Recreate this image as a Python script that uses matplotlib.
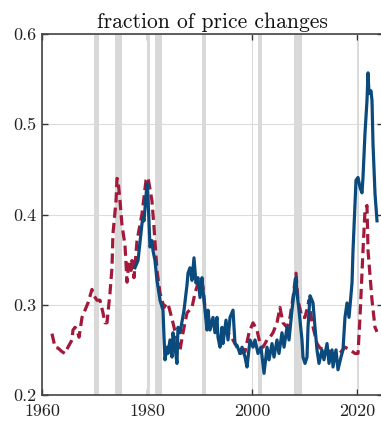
import matplotlib
matplotlib.use("Agg")
import matplotlib.pyplot as plt

plt.rcParams['font.family'] = ['cmr10', 'DejaVu Serif']
plt.rcParams['axes.formatter.use_mathtext'] = True

title = "fraction of price changes"

# recession periods (start, end)
rec_start = [1969.92, 1973.88, 1980.05, 1981.55, 1990.55, 2001.2, 2007.92, 2020.12]
rec_end   = [1970.88, 1975.2, 1980.55, 1982.88, 1991.2, 2001.88, 2009.5, 2020.33]

# red dashed series
red_years = [1961.90, 1962.48, 1963.05, 1963.81, 1964.38, 1964.95, 1965.71, 1965.90,
             1966.29, 1966.67, 1967.05, 1967.62, 1968.19, 1968.76, 1969.52, 1969.90,
             1970.48, 1971.05, 1971.62, 1972.00, 1972.38, 1972.57, 1972.95, 1973.33,
             1973.52, 1974.10, 1974.29, 1974.48, 1974.86, 1975.24, 1975.81, 1976.19,
             1976.57, 1976.95, 1977.14, 1977.52, 1978.10, 1979.05, 1979.81, 1980.19,
             1980.95, 1981.33, 1981.90, 1982.48, 1983.24, 1983.81, 1984.19, 1984.95,
             1985.71, 1986.29, 1986.86, 1987.62, 1988.57, 1989.14, 1989.90, 1990.29,
             1990.67, 1991.24, 1991.62, 1992.38, 1992.95, 1993.90, 1994.48, 1995.43,
             1996.19, 1997.14, 1997.71, 1998.67, 1999.43, 2000.19, 2000.95, 2001.52,
             2002.10, 2002.86, 2003.43, 2004.00, 2004.76, 2005.33, 2005.90, 2006.67,
             2007.24, 2007.81, 2008.38, 2008.76, 2009.52, 2010.10, 2010.86, 2011.43,
             2012.38, 2012.95, 2014.29, 2015.43, 2016.38, 2017.71, 2018.67, 2019.62,
             2020.19, 2020.57, 2021.14, 2021.52, 2021.90, 2022.10, 2022.86, 2023.43,
             2023.81]
red_vals = [0.268, 0.253, 0.252, 0.248, 0.246, 0.253, 0.261, 0.272,
            0.275, 0.272, 0.264, 0.286, 0.294, 0.302, 0.317, 0.310,
            0.305, 0.305, 0.291, 0.280, 0.280, 0.291, 0.313, 0.341,
            0.379, 0.415, 0.440, 0.438, 0.415, 0.388, 0.366, 0.325,
            0.349, 0.338, 0.349, 0.330, 0.371, 0.401, 0.438, 0.441,
            0.415, 0.386, 0.338, 0.313, 0.297, 0.302, 0.297, 0.280,
            0.261, 0.250, 0.269, 0.291, 0.297, 0.313, 0.327, 0.329,
            0.319, 0.286, 0.281, 0.283, 0.275, 0.272, 0.270, 0.269,
            0.263, 0.253, 0.246, 0.248, 0.269, 0.280, 0.272, 0.257,
            0.253, 0.261, 0.264, 0.269, 0.280, 0.297, 0.280, 0.275,
            0.286, 0.308, 0.335, 0.305, 0.286, 0.286, 0.305, 0.280,
            0.257, 0.252, 0.250, 0.246, 0.244, 0.253, 0.250, 0.246,
            0.246, 0.286, 0.360, 0.404, 0.410, 0.360, 0.305, 0.275,
            0.270]

# blue solid series
blue_years = [1977.71, 1978.29, 1979.05, 1979.24, 1979.43, 1980.00, 1980.19, 1980.57,
              1980.95, 1981.14, 1981.52, 1981.90, 1982.48, 1983.05, 1983.24, 1983.43,
              1983.81, 1984.00, 1984.38, 1984.76, 1984.95, 1985.33, 1985.71, 1985.90,
              1986.29, 1987.05, 1987.62, 1987.81, 1988.19, 1988.57, 1988.95, 1989.33,
              1989.71, 1990.10, 1990.48, 1990.67, 1991.05, 1991.43, 1991.62, 1992.00,
              1992.57, 1992.95, 1993.33, 1993.52, 1993.90, 1994.29, 1994.48, 1995.05,
              1995.43, 1995.81, 1996.38, 1996.76, 1997.14, 1997.71, 1998.10, 1998.67,
              1999.05, 1999.62, 2000.19, 2000.57, 2001.14, 2001.71, 2002.29, 2002.86,
              2003.24, 2003.81, 2004.19, 2004.76, 2005.14, 2005.71, 2006.10, 2006.67,
              2007.05, 2007.62, 2008.00, 2008.38, 2008.57, 2008.95, 2009.52, 2009.71,
              2010.10, 2010.48, 2010.67, 2011.05, 2011.43, 2011.62, 2012.00, 2012.38,
              2012.76, 2013.33, 2013.71, 2014.29, 2014.67, 2015.24, 2015.43, 2016.00,
              2016.38, 2016.95, 2017.33, 2017.71, 2018.10, 2018.48, 2019.05, 2019.24,
              2019.81, 2020.19, 2020.57, 2020.95, 2021.14, 2021.52, 2021.90, 2022.10,
              2022.29, 2022.67, 2022.86, 2023.05, 2023.43, 2023.81]
blue_vals = [0.341, 0.349, 0.390, 0.397, 0.393, 0.434, 0.419, 0.364,
             0.371, 0.360, 0.349, 0.327, 0.305, 0.294, 0.264, 0.239,
             0.253, 0.246, 0.261, 0.242, 0.269, 0.253, 0.235, 0.275,
             0.269, 0.294, 0.322, 0.335, 0.341, 0.327, 0.352, 0.324,
             0.330, 0.308, 0.330, 0.316, 0.294, 0.272, 0.294, 0.272,
             0.286, 0.269, 0.286, 0.264, 0.253, 0.275, 0.257, 0.283,
             0.261, 0.286, 0.294, 0.257, 0.255, 0.246, 0.253, 0.242,
             0.231, 0.261, 0.253, 0.261, 0.246, 0.253, 0.224, 0.253,
             0.239, 0.257, 0.242, 0.261, 0.246, 0.269, 0.253, 0.275,
             0.261, 0.294, 0.313, 0.330, 0.313, 0.294, 0.261, 0.242,
             0.235, 0.242, 0.275, 0.310, 0.305, 0.302, 0.275, 0.250,
             0.235, 0.250, 0.239, 0.257, 0.235, 0.250, 0.231, 0.250,
             0.228, 0.242, 0.250, 0.286, 0.302, 0.286, 0.324, 0.360,
             0.438, 0.441, 0.430, 0.424, 0.441, 0.490, 0.526, 0.557,
             0.534, 0.537, 0.526, 0.478, 0.423, 0.393]

yticks = [0.2, 0.3, 0.4, 0.5, 0.6]
ytick_labels = ["0.2", "0.3", "0.4", "0.5", "0.6"]
xticks = [1960, 1980, 2000, 2020]
xtick_labels = ["1960", "1980", "2000", "2020"]

W, H = 381, 421
fig = plt.figure(figsize=(W / 100, H / 100), dpi=100)
left, right, top, bottom = 42, 382.5, 34, 395
ax = fig.add_axes([left / W, 1 - bottom / H, (right - left) / W, (bottom - top) / H])

for s, e in zip(rec_start, rec_end):
    ax.axvspan(s, e, color='#d9d9d9', lw=0, zorder=1)

ax.plot(red_years, red_vals, color='#a3193a', lw=2.3, ls=(0, (3.2, 1.6)),
        zorder=3, solid_capstyle='butt', dash_capstyle='butt')
ax.plot(blue_years, blue_vals, color='#0b4a7c', lw=2.3, zorder=4,
        solid_joinstyle='round')

ax.set_xlim(1960, 1960 + (right - left) / 5.25)
ax.set_ylim(0.2, 0.6)
ax.set_yticks(yticks)
ax.set_yticklabels(ytick_labels)
ax.set_xticks(xticks)
ax.set_xticklabels(xtick_labels)

ax.grid(True, color='#dcdcdc', lw=0.8, zorder=0)
ax.set_axisbelow(True)
ax.tick_params(direction='in', length=4, width=1.0, color='#333333',
               top=True, right=True, labelsize=13, labelcolor='#222222')
ax.tick_params(axis='x', pad=6)
ax.tick_params(axis='y', pad=4)
for sp in ax.spines.values():
    sp.set_color('#444444')
    sp.set_linewidth(1.2)

ax.set_title(title, fontsize=15.5, color='#111111', pad=4)

fig.savefig("out.png", dpi=100)
